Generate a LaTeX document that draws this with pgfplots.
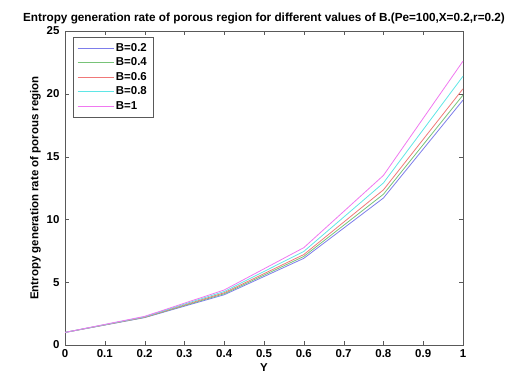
\documentclass[border=0pt]{standalone}
\usepackage{pgfplots}
\pgfplotsset{compat=1.18}
\usepackage{fontspec}
\setmainfont{Liberation Sans}

\definecolor{cB}{RGB}{125,125,235}
\definecolor{cG}{RGB}{120,195,120}
\definecolor{cR}{RGB}{240,120,120}
\definecolor{cC}{RGB}{95,230,230}
\definecolor{cM}{RGB}{240,120,240}

\begin{document}
\begin{tikzpicture}
\begin{axis}[
  scale only axis,
  width=398bp, height=314bp,
  at={(0,0)}, anchor=south west,
  xmin=0, xmax=1, ymin=0, ymax=25,
  xtick={0,0.1,...,1.0},
  xticklabels={0,0.1,0.2,0.3,0.4,0.5,0.6,0.7,0.8,0.9,1},
  ytick={0,5,10,15,20,25},
  /pgf/number format/assume math mode=true,
  tick align=inside,
  major tick length=4bp,
  axis line style={draw=black!65},
  tick style={draw=black!65},
  tick label style={font=\bfseries\fontsize{11.5}{13}\selectfont},
  xticklabel style={yshift=-1bp},
  yticklabel style={xshift=-2bp},
  xlabel={\bfseries Y},
  ylabel={\bfseries Entropy generation rate of porous region},
  label style={font=\bfseries\fontsize{11.5}{13}\selectfont},
  xlabel style={yshift=1bp},
  ylabel style={yshift=-1bp},
  title={\bfseries Entropy generation rate of porous region for different values of B.(Pe=100,X=0.2,r=0.2)},
  title style={font=\bfseries\fontsize{11.8}{13}\selectfont, yshift=-2bp},
  legend style={at={(0.02,0.98)}, anchor=north west, draw=black!65,
    font=\bfseries\fontsize{11.5}{13.5}\selectfont, inner sep=4bp, row sep=1bp},
  legend cell align=left,
  legend image code/.code={\draw[#1] (0bp,0bp) -- (36bp,0bp);},
  every axis plot/.append style={line width=0.8pt},
]
\addplot[cB] coordinates {(0,1.0) (0.2,2.18) (0.4,4.0) (0.6,6.9) (0.8,11.7) (1.0,19.5)};
\addplot[cG] coordinates {(0,1.0) (0.2,2.20) (0.4,4.08) (0.6,7.05) (0.8,12.0) (1.0,19.9)};
\addplot[cR] coordinates {(0,1.0) (0.2,2.22) (0.4,4.16) (0.6,7.2) (0.8,12.35) (1.0,20.4)};
\addplot[cC] coordinates {(0,1.0) (0.2,2.25) (0.4,4.26) (0.6,7.45) (0.8,12.9) (1.0,21.4)};
\addplot[cM] coordinates {(0,1.0) (0.2,2.28) (0.4,4.38) (0.6,7.75) (0.8,13.5) (1.0,22.6)};
\legend{B=0.2,B=0.4,B=0.6,B=0.8,B=1}
\end{axis}
\path[use as bounding box] (-65bp,-32bp) rectangle (451bp,345bp);
\end{tikzpicture}
\end{document}
